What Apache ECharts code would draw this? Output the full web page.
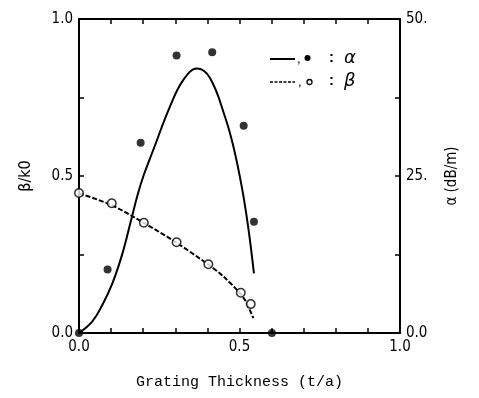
<!DOCTYPE html>
<html><head><meta charset="utf-8">
<script src="https://cdn.jsdelivr.net/npm/echarts@6/dist/echarts.min.js"></script>
<style>html,body{margin:0;padding:0;background:#fff}#c{width:479px;height:398px}</style>
</head><body><div id="c"></div>
<script>
// measured alpha points (dB/m) – filled dots
var alphaPtsX = [0.0, 0.089, 0.192, 0.304, 0.415, 0.513, 0.545, 0.601];
var alphaPtsY = [0.0, 10.1, 30.3, 44.2, 44.7, 33.0, 17.7, 0.0];
// alpha fitted curve (solid)
var alphaCurveX = [0.0, 0.041, 0.073, 0.104, 0.135, 0.161, 0.182, 0.202, 0.231, 0.283, 0.325, 0.367, 0.408, 0.455, 0.481, 0.507, 0.527, 0.545];
var alphaCurveY = [0.0, 1.8, 4.5, 7.9, 12.6, 17.7, 21.9, 25.2, 29.1, 36.0, 40.3, 42.1, 40.6, 34.4, 29.7, 23.3, 16.9, 9.5];
// measured beta points (beta/k0) – open circles
var betaPtsX = [0.0, 0.102, 0.202, 0.304, 0.403, 0.504, 0.535];
var betaPtsY = [0.446, 0.413, 0.351, 0.289, 0.219, 0.128, 0.092];
// beta fitted curve (dashed)
var betaCurveX = [0.0, 0.1, 0.2, 0.3, 0.4, 0.45, 0.5, 0.52, 0.543];
var betaCurveY = [0.445, 0.408, 0.352, 0.29, 0.22, 0.18, 0.128, 0.1, 0.047];
// axis tick labels
var xLabels = {0: '0.0', 0.5: '0.5', 1: '1.0'};
var yLeftLabels = {0: '0.0', 0.5: '0.5', 1: '1.0'};
var yRightLabels = {0: '0.0', 25: '25.', 50: '50.'};

function zip(a, b) { return a.map(function (v, i) { return [v, b[i]]; }); }
function lab(map, v) {
  for (var k in map) { if (Math.abs(parseFloat(k) - v) < 1e-6) return map[k]; }
  return '';
}
var tickFont = '"Liberation Sans Narrow", "DejaVu Sans Condensed", "Liberation Sans", sans-serif';
var axisLine = {show: true, onZero: false, lineStyle: {color: '#000', width: 2}};
var tick = {show: true, inside: true, length: 5, lineStyle: {color: '#000', width: 1.5}};

var chart = echarts.init(document.getElementById('c'));
chart.setOption({
  animation: false,
  grid: {left: 79, right: 79, top: 19, bottom: 65},
  xAxis: [{
    type: 'value', position: 'bottom', min: 0, max: 1, interval: 0.1,
    axisLine: axisLine, axisTick: tick, splitLine: {show: false},
    axisLabel: {color: '#000', fontFamily: tickFont, fontSize: 15, margin: 7,
      formatter: function (v) { return lab(xLabels, v); }},
    name: 'Grating Thickness (t/a)', nameLocation: 'middle', nameGap: 42,
    nameTextStyle: {color: '#000', fontFamily: '"Liberation Mono", "DejaVu Sans Mono", monospace', fontSize: 15}
  }, {
    type: 'value', position: 'top', min: 0, max: 1, interval: 0.1,
    axisLine: axisLine, axisTick: tick, splitLine: {show: false}, axisLabel: {show: false}
  }],
  yAxis: [{
    type: 'value', position: 'left', min: 0, max: 1, interval: 0.25,
    axisLine: axisLine, axisTick: tick, splitLine: {show: false},
    axisLabel: {color: '#000', fontFamily: tickFont, fontSize: 15, margin: 6,
      formatter: function (v) { return lab(yLeftLabels, v); }},
    name: 'β/k0', nameLocation: 'middle', nameGap: 45, nameRotate: 90,
    nameTextStyle: {color: '#000', fontFamily: tickFont, fontSize: 16}
  }, {
    type: 'value', position: 'right', min: 0, max: 50, interval: 12.5,
    axisLine: axisLine, axisTick: tick, splitLine: {show: false},
    axisLabel: {color: '#000', fontFamily: tickFont, fontSize: 15, margin: 6,
      formatter: function (v) { return lab(yRightLabels, v); }},
    name: 'α (dB/m)', nameLocation: 'middle', nameGap: 45, nameRotate: 90,
    nameTextStyle: {color: '#000', fontFamily: tickFont, fontSize: 15}
  }],
  series: [{
    type: 'line', xAxisIndex: 0, yAxisIndex: 1, data: zip(alphaCurveX, alphaCurveY),
    smooth: 0.4, showSymbol: false, lineStyle: {color: '#000', width: 2}, silent: true
  }, {
    type: 'line', xAxisIndex: 0, yAxisIndex: 0, data: zip(betaCurveX, betaCurveY),
    smooth: 0.3, showSymbol: false, lineStyle: {color: '#000', width: 2, type: [5, 2]}, silent: true
  }, {
    type: 'scatter', xAxisIndex: 0, yAxisIndex: 1, data: zip(alphaPtsX, alphaPtsY),
    symbol: 'circle', symbolSize: 8, clip: false, itemStyle: {color: '#000'}, z: 5
  }, {
    type: 'scatter', xAxisIndex: 0, yAxisIndex: 0, data: zip(betaPtsX, betaPtsY),
    symbol: 'circle', symbolSize: 8.5, clip: false,
    itemStyle: {color: '#fff', borderColor: '#000', borderWidth: 1.5}, z: 6
  }],
  graphic: [
    {type: 'line', shape: {x1: 270, y1: 59, x2: 295, y2: 59}, style: {stroke: '#000', lineWidth: 2}},
    {type: 'text', x: 297, y: 53, style: {text: ',', fill: '#000', font: '13px "Liberation Sans"'}},
    {type: 'circle', shape: {cx: 307.5, cy: 58, r: 3}, style: {fill: '#000'}},
    {type: 'text', x: 329, y: 50, style: {text: ':', fill: '#000', font: 'bold 15px "Liberation Sans"'}},
    {type: 'text', x: 344, y: 49, style: {text: 'α', fill: '#000', font: 'italic 18px "DejaVu Sans"'}},
    {type: 'line', shape: {x1: 270, y1: 82, x2: 295, y2: 82}, style: {stroke: '#000', lineWidth: 1.5, lineDash: [3, 1.5]}},
    {type: 'text', x: 298, y: 76, style: {text: ',', fill: '#000', font: '13px "Liberation Sans"'}},
    {type: 'circle', shape: {cx: 309.5, cy: 82, r: 2.5}, style: {fill: '#fff', stroke: '#000', lineWidth: 1.3}},
    {type: 'text', x: 329, y: 73, style: {text: ':', fill: '#000', font: 'bold 15px "Liberation Sans"'}},
    {type: 'text', x: 344, y: 72, style: {text: 'β', fill: '#000', font: 'italic 18px "DejaVu Sans"'}}
  ]
});
</script></body></html>
